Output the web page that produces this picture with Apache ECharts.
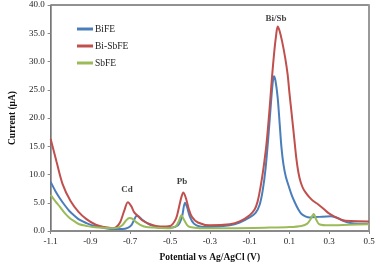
<!DOCTYPE html>
<html>
<head>
<meta charset="utf-8">
<script src="https://cdn.jsdelivr.net/npm/echarts@6/dist/echarts.min.js"></script>
<style>
  html, body { margin: 0; padding: 0; background: #fff; }
  #chart { width: 381px; height: 268px; }
</style>
</head>
<body>
<div id="chart"></div>
<script>
// [potential (V), current (uA)]
var bife = [
  [-1.1, 8.7], [-1.075, 7.0], [-1.054, 5.8], [-1.03, 4.6], [-1.005, 3.5], [-0.98, 2.7],
  [-0.956, 2.0], [-0.92, 1.4], [-0.89, 1.0], [-0.824, 0.5], [-0.78, 0.35], [-0.74, 0.35],
  [-0.71, 0.6], [-0.693, 1.1], [-0.68, 2.0], [-0.668, 2.7], [-0.655, 2.5], [-0.64, 2.0],
  [-0.62, 1.5], [-0.6, 1.1], [-0.55, 0.6], [-0.5, 0.6], [-0.46, 1.0], [-0.44, 2.5],
  [-0.425, 5.0], [-0.415, 4.3], [-0.4, 2.5], [-0.38, 1.3], [-0.35, 0.8], [-0.3, 0.7],
  [-0.2, 1.0], [-0.15, 1.5], [-0.1, 2.4], [-0.07, 3.2], [-0.05, 4.6], [-0.035, 7.0],
  [-0.02, 11.0], [-0.005, 17.0], [0.008, 23.0], [0.016, 26.2], [0.022, 27.4], [0.03, 26.6],
  [0.041, 23.6], [0.051, 19.0], [0.06, 14.8], [0.07, 11.8], [0.082, 9.6], [0.096, 8.0],
  [0.112, 6.3], [0.128, 5.0], [0.145, 3.8], [0.161, 3.0], [0.18, 2.6], [0.202, 2.4],
  [0.25, 2.5], [0.309, 2.6], [0.342, 2.3], [0.37, 1.8], [0.407, 1.4], [0.45, 1.3], [0.5, 1.3]
];
var bisbfe = [
  [-1.1, 16.3], [-1.07, 12.2], [-1.04, 8.3], [-1.0, 5.3], [-0.96, 3.4], [-0.92, 2.1],
  [-0.873, 1.1], [-0.83, 0.7], [-0.79, 0.5], [-0.77, 0.7], [-0.75, 1.6], [-0.73, 3.6],
  [-0.712, 5.1], [-0.695, 4.4], [-0.68, 3.3], [-0.66, 2.6], [-0.64, 1.9], [-0.6, 1.2],
  [-0.55, 0.8], [-0.5, 0.9], [-0.47, 2.2], [-0.455, 4.2], [-0.443, 6.0], [-0.433, 6.8],
  [-0.42, 5.8], [-0.405, 3.8], [-0.39, 2.5], [-0.36, 1.5], [-0.3, 1.0], [-0.2, 1.2],
  [-0.15, 1.7], [-0.1, 2.8], [-0.075, 3.8], [-0.06, 5.2], [-0.045, 7.8], [-0.03, 11.2],
  [-0.015, 15.5], [0.0, 21.5], [0.012, 27.0], [0.024, 31.8], [0.033, 34.6], [0.041, 36.2],
  [0.05, 35.5], [0.063, 33.6], [0.079, 30.6], [0.091, 27.7], [0.1, 24.5], [0.112, 20.5],
  [0.124, 16.5], [0.135, 12.8], [0.145, 10.4], [0.156, 8.7], [0.168, 7.6], [0.182, 6.8],
  [0.2, 6.0], [0.22, 5.3], [0.245, 4.7], [0.27, 4.0], [0.295, 3.2], [0.324, 2.6],
  [0.36, 2.0], [0.407, 1.75], [0.5, 1.7]
];
var sbfe = [
  [-1.1, 6.4], [-1.075, 5.2], [-1.054, 4.3], [-1.03, 3.2], [-1.005, 2.3], [-0.98, 1.7],
  [-0.956, 1.2], [-0.92, 0.9], [-0.89, 0.7], [-0.8, 0.5], [-0.76, 0.6], [-0.74, 1.0],
  [-0.72, 1.9], [-0.704, 2.3], [-0.69, 2.2], [-0.675, 1.7], [-0.65, 1.1], [-0.62, 0.7],
  [-0.58, 0.6], [-0.5, 0.5], [-0.47, 0.9], [-0.455, 1.8], [-0.443, 2.8], [-0.43, 2.0],
  [-0.415, 1.1], [-0.4, 0.7], [-0.35, 0.5], [-0.2, 0.5], [0.0, 0.6], [0.1, 0.7],
  [0.16, 0.9], [0.19, 1.3], [0.205, 2.0], [0.222, 3.0], [0.235, 2.0], [0.25, 1.2],
  [0.3, 1.0], [0.4, 1.1], [0.5, 1.2]
];
// peak labels
var peakLabels = [
  [-0.716, 7.4, 'Cd'],
  [-0.44, 8.8, 'Pb'],
  [0.033, 37.5, 'Bi/Sb']
];

var serif = '"Liberation Serif", "Times New Roman", serif';

var chartDom = document.getElementById('chart');
var myChart = echarts.init(chartDom);
var option;

function lineSeries (name, data, color) {
  return {
    name: name,
    type: 'line',
    data: data,
    smooth: 0.3,
    showSymbol: false,
    color: color,
    lineStyle: { width: 2, color: color }
  };
}

option = {
  animation: false,
  grid: {
    left: 44, right: 12, top: 5, bottom: 35,
    show: true, borderColor: '#222', borderWidth: 1
  },
  legend: {
    orient: 'vertical',
    left: 72, top: 19,
    icon: 'rect',
    itemWidth: 16, itemHeight: 3,
    itemGap: 7,
    data: ['BiFE', 'Bi-SbFE', 'SbFE'],
    textStyle: { fontFamily: serif, fontSize: 9.5, color: '#222', padding: [0, 0, 0, -3] }
  },
  xAxis: {
    type: 'value',
    min: -1.1, max: 0.5, interval: 0.2,
    name: 'Potential vs Ag/AgCl (V)',
    nameLocation: 'middle', nameGap: 22,
    nameTextStyle: { fontFamily: serif, fontSize: 9.5, fontWeight: 'bold', color: '#111' },
    axisLine: { onZero: false, lineStyle: { color: '#888', width: 1.5 } },
    axisTick: { show: true, length: 3, lineStyle: { color: '#888' } },
    splitLine: { show: false },
    axisLabel: {
      fontFamily: serif, fontSize: 9, color: '#222', margin: 6,
      formatter: function (v) { return v.toFixed(1); }
    }
  },
  yAxis: [{
    type: 'value',
    min: 0, max: 40, interval: 5,
    name: 'Current (μA)',
    nameLocation: 'middle', nameGap: 32,
    nameTextStyle: { fontFamily: serif, fontSize: 9.5, fontWeight: 'bold', color: '#111' },
    axisLine: { show: true, onZero: false, lineStyle: { color: '#888', width: 1.5 } },
    axisTick: { show: true, length: 3, lineStyle: { color: '#888' } },
    splitLine: { show: false },
    axisLabel: {
      fontFamily: serif, fontSize: 9, color: '#222', margin: 6,
      formatter: function (v) { return v.toFixed(1); }
    }
  }, {
    type: 'value',
    min: 0, max: 40, interval: 5,
    position: 'right',
    axisLine: { show: true, onZero: false, lineStyle: { color: '#999', width: 2 } },
    axisTick: { show: false },
    axisLabel: { show: false },
    splitLine: { show: false }
  }],
  series: [
    lineSeries('BiFE', bife, '#4a7ebb'),
    lineSeries('Bi-SbFE', bisbfe, '#c0504d'),
    lineSeries('SbFE', sbfe, '#9bbb59'),
    {
      name: 'labels',
      type: 'scatter',
      symbolSize: 0,
      data: peakLabels,
      silent: true,
      label: {
        show: true,
        position: 'inside',
        fontFamily: serif, fontSize: 9, fontWeight: 'bold', color: '#111',
        formatter: function (p) { return p.value[2]; }
      }
    }
  ]
};

option && myChart.setOption(option);
</script>
</body>
</html>
